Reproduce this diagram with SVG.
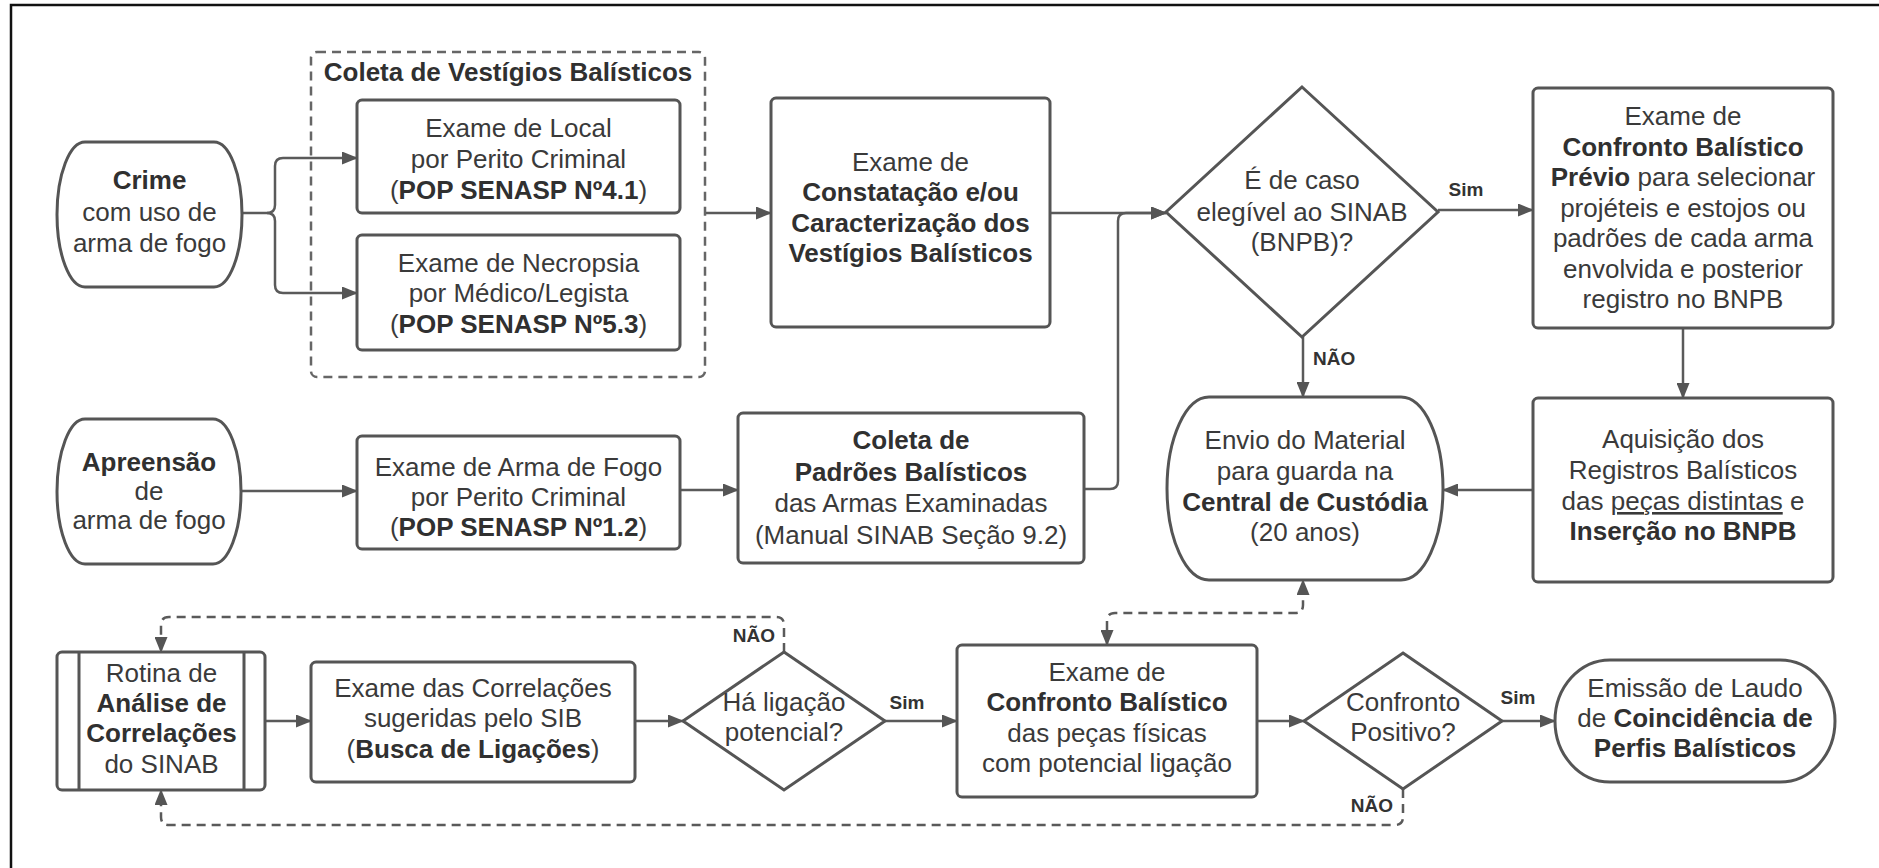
<svg xmlns="http://www.w3.org/2000/svg" width="1879" height="868" viewBox="0 0 1879 868">
<style>
.box{fill:#fff;stroke:#555;stroke-width:3}
.grp{fill:none;stroke:#666;stroke-width:2.5;stroke-dasharray:9 6}
.t{font-family:"Liberation Sans",Arial,sans-serif;font-size:26px;fill:#3a3a3a;text-anchor:middle}
.b{font-weight:bold;fill:#303030}
.lbl{font-family:"Liberation Sans",Arial,sans-serif;font-size:19px;font-weight:bold;fill:#333}
.c{fill:none;stroke:#5a5a5a;stroke-width:2.5}
.d{stroke-dasharray:9 6}
</style>
<defs>
<marker id="ah" markerWidth="16" markerHeight="13" refX="15" refY="6.5" orient="auto-start-reverse" markerUnits="userSpaceOnUse"><path d="M0,0 L16,6.5 L0,13 z" fill="#555"/></marker>
</defs>
<rect width="1879" height="868" fill="#fff"/>
<path d="M11,868 V5 H1879" fill="none" stroke="#111" stroke-width="2.5"/>

<g id="connectors">
<path class="c" d="M242,213 H267 Q275,213 275,205 V166 Q275,158 283,158 H357" marker-end="url(#ah)"/>
<path class="c" d="M267,213 Q275,213 275,221 V285 Q275,293 283,293 H357" marker-end="url(#ah)"/>
<path class="c" d="M705,213 H771" marker-end="url(#ah)"/>
<path class="c" d="M1050,213 H1166" marker-end="url(#ah)"/>
<path class="c" d="M1084,489 H1110 Q1118,489 1118,481 V221 Q1118,213 1126,213 H1166" marker-end="url(#ah)"/>
<path class="c" d="M1438,210 H1533" marker-end="url(#ah)"/>
<path class="c" d="M1303,337 V397" marker-end="url(#ah)"/>
<path class="c" d="M1683,328 V398" marker-end="url(#ah)"/>
<path class="c" d="M1533,490 H1443" marker-end="url(#ah)"/>
<path class="c" d="M241,491 H357" marker-end="url(#ah)"/>
<path class="c" d="M680,490 H738" marker-end="url(#ah)"/>
<path class="c" d="M265,721 H311" marker-end="url(#ah)"/>
<path class="c" d="M635,721 H683" marker-end="url(#ah)"/>
<path class="c" d="M885,721 H957" marker-end="url(#ah)"/>
<path class="c" d="M1257,721 H1304" marker-end="url(#ah)"/>
<path class="c" d="M1502,721 H1555" marker-end="url(#ah)"/>
<path class="c d" d="M784,652 V625 Q784,617 776,617 H169 Q161,617 161,625 V652" marker-end="url(#ah)"/>
<path class="c d" d="M1107,645 V621 Q1107,613 1115,613 H1295 Q1303,613 1303,605 V580" marker-start="url(#ah)" marker-end="url(#ah)"/>
<path class="c d" d="M1403,789 V817 Q1403,825 1395,825 H169 Q161,825 161,817 V790" marker-end="url(#ah)"/>
<text class="lbl" x="1466" y="196" text-anchor="middle">Sim</text>
<text class="lbl" x="1313" y="365">NÃO</text>
<text class="lbl" x="775" y="642" text-anchor="end">NÃO</text>
<text class="lbl" x="907" y="709" text-anchor="middle">Sim</text>
<text class="lbl" x="1518" y="704" text-anchor="middle">Sim</text>
<text class="lbl" x="1393" y="812" text-anchor="end">NÃO</text>
</g>

<g id="coleta-vestigios">
<rect class="grp" x="311" y="52" width="394" height="325" rx="6"/>
<text class="t b" x="508" y="81">Coleta de Vestígios Balísticos</text>
</g>

<g id="crime">
<rect class="box" x="57" y="142" width="185" height="145" rx="28" ry="72.5"/>
<text class="t" x="149.5" y="189"><tspan class="b">Crime</tspan></text>
<text class="t" x="149.5" y="221">com uso de</text>
<text class="t" x="149.5" y="252">arma de fogo</text>
</g>

<g id="exame-local">
<rect class="box" x="357" y="100" width="323" height="113" rx="5"/>
<text class="t" x="518.5" y="137">Exame de Local</text>
<text class="t" x="518.5" y="168">por Perito Criminal</text>
<text class="t" x="518.5" y="199">(<tspan class="b">POP SENASP Nº4.1</tspan>)</text>
</g>

<g id="exame-necropsia">
<rect class="box" x="357" y="235" width="323" height="115" rx="5"/>
<text class="t" x="518.5" y="272">Exame de Necropsia</text>
<text class="t" x="518.5" y="302">por Médico/Legista</text>
<text class="t" x="518.5" y="333">(<tspan class="b">POP SENASP Nº5.3</tspan>)</text>
</g>

<g id="constatacao">
<rect class="box" x="771" y="98" width="279" height="229" rx="5"/>
<text class="t" x="910.5" y="171">Exame de</text>
<text class="t b" x="910.5" y="201">Constatação e/ou</text>
<text class="t b" x="910.5" y="232">Caracterização dos</text>
<text class="t b" x="910.5" y="262">Vestígios Balísticos</text>
</g>

<g id="elegivel">
<polygon class="box" points="1302,87 1438,212 1302,337 1166,212"/>
<text class="t" x="1302" y="189">É de caso</text>
<text class="t" x="1302" y="221">elegível ao SINAB</text>
<text class="t" x="1302" y="251">(BNPB)?</text>
</g>

<g id="previo">
<rect class="box" x="1533" y="88" width="300" height="240" rx="5"/>
<text class="t" x="1683" y="125">Exame de</text>
<text class="t b" x="1683" y="156">Confronto Balístico</text>
<text class="t" x="1683" y="186"><tspan class="b">Prévio</tspan> para selecionar</text>
<text class="t" x="1683" y="217">projéteis e estojos ou</text>
<text class="t" x="1683" y="247">padrões de cada arma</text>
<text class="t" x="1683" y="278">envolvida e posterior</text>
<text class="t" x="1683" y="308">registro no BNPB</text>
</g>

<g id="aquisicao">
<rect class="box" x="1533" y="398" width="300" height="184" rx="5"/>
<text class="t" x="1683" y="448">Aquisição dos</text>
<text class="t" x="1683" y="479">Registros Balísticos</text>
<text class="t" x="1683" y="510">das <tspan style="text-decoration:underline">peças distintas</tspan> e</text>
<text class="t b" x="1683" y="540">Inserção no BNPB</text>
</g>

<g id="envio">
<rect class="box" x="1167" y="397" width="276" height="183" rx="42" ry="91.5"/>
<text class="t" x="1305" y="449">Envio do Material</text>
<text class="t" x="1305" y="480">para guarda na</text>
<text class="t b" x="1305" y="511">Central de Custódia</text>
<text class="t" x="1305" y="541">(20 anos)</text>
</g>

<g id="apreensao">
<rect class="box" x="57" y="419" width="184" height="145" rx="28" ry="72.5"/>
<text class="t b" x="149" y="471">Apreensão</text>
<text class="t" x="149" y="500">de</text>
<text class="t" x="149" y="529">arma de fogo</text>
</g>

<g id="exame-arma">
<rect class="box" x="357" y="436" width="323" height="113" rx="5"/>
<text class="t" x="518.5" y="476">Exame de Arma de Fogo</text>
<text class="t" x="518.5" y="506">por Perito Criminal</text>
<text class="t" x="518.5" y="536">(<tspan class="b">POP SENASP Nº1.2</tspan>)</text>
</g>

<g id="padroes">
<rect class="box" x="738" y="413" width="346" height="150" rx="5"/>
<text class="t b" x="911" y="449">Coleta de</text>
<text class="t b" x="911" y="481">Padrões Balísticos</text>
<text class="t" x="911" y="512">das Armas Examinadas</text>
<text class="t" x="911" y="544">(Manual SINAB Seção 9.2)</text>
</g>

<g id="rotina">
<rect class="box" x="57" y="652" width="208" height="138" rx="5"/>
<path d="M79,652 V790 M244,652 V790" stroke="#555" stroke-width="3"/>
<text class="t" x="161.5" y="682">Rotina de</text>
<text class="t b" x="161.5" y="712">Análise de</text>
<text class="t b" x="161.5" y="742">Correlações</text>
<text class="t" x="161.5" y="773">do SINAB</text>
</g>

<g id="correlacoes">
<rect class="box" x="311" y="662" width="324" height="120" rx="5"/>
<text class="t" x="473" y="697">Exame das Correlações</text>
<text class="t" x="473" y="727">sugeridas pelo SIB</text>
<text class="t" x="473" y="758">(<tspan class="b">Busca de Ligações</tspan>)</text>
</g>

<g id="ligacao">
<polygon class="box" points="784,652 885,721 784,790 683,721"/>
<text class="t" x="784" y="711">Há ligação</text>
<text class="t" x="784" y="741">potencial?</text>
</g>

<g id="confronto">
<rect class="box" x="957" y="645" width="300" height="152" rx="5"/>
<text class="t" x="1107" y="681">Exame de</text>
<text class="t b" x="1107" y="711">Confronto Balístico</text>
<text class="t" x="1107" y="742">das peças físicas</text>
<text class="t" x="1107" y="772">com potencial ligação</text>
</g>

<g id="positivo">
<polygon class="box" points="1403,653 1502,721 1403,789 1304,721"/>
<text class="t" x="1403" y="711">Confronto</text>
<text class="t" x="1403" y="741">Positivo?</text>
</g>

<g id="emissao">
<rect class="box" x="1555" y="660" width="280" height="122" rx="55" ry="61"/>
<text class="t" x="1695" y="697">Emissão de Laudo</text>
<text class="t" x="1695" y="727">de <tspan class="b">Coincidência de</tspan></text>
<text class="t b" x="1695" y="757">Perfis Balísticos</text>
</g>
</svg>
